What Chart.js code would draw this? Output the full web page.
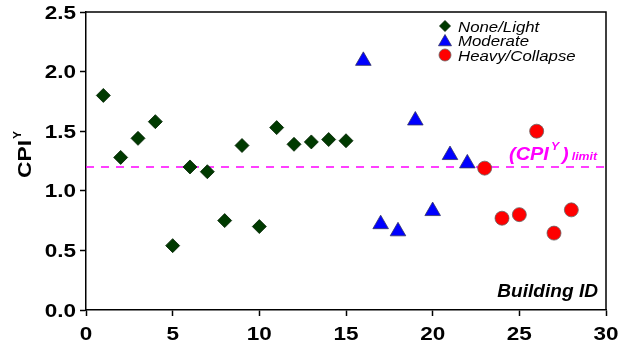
<!DOCTYPE html>
<html>
<head>
<meta charset="utf-8">
<script src="https://cdn.jsdelivr.net/npm/chart.js@4"></script>
<style>
  html, body { margin: 0; padding: 0; background: #fff; }
  canvas { display: block; }
</style>
</head>
<body>
<canvas id="cpi-chart" width="624" height="347"></canvas>
<script>
// building ids and CPI^Y per damage class
const idsNone = [1, 2, 3, 4, 5, 6, 7, 8, 9, 10, 11, 12, 13, 14, 15];
const cpiNone = [1.80, 1.28, 1.44, 1.58, 0.54, 1.20, 1.16, 0.75, 1.38, 0.70, 1.53, 1.39, 1.41, 1.43, 1.42];
const idsModerate = [16, 17, 18, 19, 20, 21, 22];
const cpiModerate = [2.09, 0.72, 0.66, 1.59, 0.83, 1.30, 1.23];
const idsHeavy = [23, 24, 25, 26, 27, 28];
const cpiHeavy = [1.19, 0.77, 0.80, 1.50, 0.645, 0.84];
const cpiLimit = 1.2;
const xTicks = [0, 5, 10, 15, 20, 25, 30];
const yTicks = [0.0, 0.5, 1.0, 1.5, 2.0, 2.5];

const FONT = "Arial, 'Liberation Sans', sans-serif";

function toPoints(xs, ys) {
    return xs.map((x, i) => ({ x: x, y: ys[i] }));
}

const ctx = document.getElementById("cpi-chart").getContext("2d");

// text drawing helper, stretched sideways by sx
function stretchText(c, text, x, y, font, color, align, sx) {
    sx = sx || 1.12;
    c.save();
    c.font = font;
    c.fillStyle = color;
    c.textBaseline = "alphabetic";
    const w = c.measureText(text).width * sx;
    let left = x;
    if (align === "right") left = x - w;
    if (align === "center") left = x - w / 2;
    c.translate(left, y);
    c.scale(sx, 1);
    c.textAlign = "left";
    c.fillText(text, 0, 0);
    c.restore();
    return w;
}

const extras = {
    id: "extras",
    afterDraw(chart) {
        const c = chart.ctx;
        const a = chart.chartArea;
        const xs = chart.scales.x;
        const ys = chart.scales.y;

        // frame: top and right edges
        c.save();
        c.strokeStyle = "#000";
        c.lineWidth = 1.5;
        c.beginPath();
        c.moveTo(a.left, a.top);
        c.lineTo(a.right, a.top);
        c.lineTo(a.right, a.bottom);
        c.stroke();
        c.restore();

        // tick labels (wide bold digits)
        const tickFont = "bold 18px " + FONT;
        xTicks.forEach(v => {
            stretchText(c, String(v), xs.getPixelForValue(v), a.bottom + 30, tickFont, "#000", "center", 1.25);
        });
        yTicks.forEach(v => {
            stretchText(c, v.toFixed(1), a.left - 10, ys.getPixelForValue(v) + 6.5, tickFont, "#000", "right", 1.25);
        });

        // legend
        const rows = chart.data.datasets.filter(d => d.type !== "line");
        rows.forEach((ds, i) => {
            const y = 26 + i * 14.5;
            c.save();
            c.fillStyle = ds.backgroundColor;
            c.strokeStyle = ds.borderColor;
            c.lineWidth = 0.8;
            Chart.helpers.drawPoint(c, {
                pointStyle: ds.pointStyle,
                radius: ds.legendRadius,
                rotation: 0,
                borderWidth: 0.8
            }, 445, y + (ds.pointStyle === "triangle" ? 1.5 : 0));
            c.restore();
            stretchText(c, ds.label, 458, y + 5.5, "italic 15px " + FONT, "#000", "left", 1.12);
        });

        // x axis title inside the plot
        stretchText(c, "Building ID", a.right - 8, a.bottom - 13, "bold italic 18px " + FONT, "#000", "right", 1.06);

        // limit label
        const magenta = "#ff00ff";
        let x = 509;
        const base = 160;
        x += stretchText(c, "(CPI", x, base, "bold italic 19px " + FONT, magenta, "left", 1.05);
        x += 2;
        x += stretchText(c, "Y", x, base - 10, "bold italic 11px " + FONT, magenta, "left");
        x += 3;
        x += stretchText(c, ")", x, base, "bold italic 19px " + FONT, magenta, "left", 1.05);
        x += 3;
        stretchText(c, "limit", x, base, "bold italic 11px " + FONT, magenta, "left");

        // y axis title, rotated
        c.save();
        c.translate(31, 178);
        c.rotate(-Math.PI / 2);
        const w = stretchText(c, "CPI", 0, 0, "bold 19px " + FONT, "#000", "left", 1.2);
        stretchText(c, "Y", w + 1, -10, "bold 11px " + FONT, "#000", "left", 1.1);
        c.restore();
    }
};

new Chart(ctx, {
    type: "scatter",
    data: {
        datasets: [
            {
                label: "None/Light",
                data: toPoints(idsNone, cpiNone),
                pointStyle: "rectRot",
                pointRadius: 7,
                legendRadius: 5.5,
                backgroundColor: "#003a00",
                borderColor: "#002200",
                borderWidth: 0.8
            },
            {
                label: "Moderate",
                data: toPoints(idsModerate, cpiModerate),
                pointStyle: "triangle",
                pointRadius: 9,
                legendRadius: 7.5,
                backgroundColor: "#0000ff",
                borderColor: "#333366",
                borderWidth: 0.8
            },
            {
                label: "Heavy/Collapse",
                data: toPoints(idsHeavy, cpiHeavy),
                pointStyle: "circle",
                pointRadius: 7,
                legendRadius: 6,
                backgroundColor: "#ff0000",
                borderColor: "#666666",
                borderWidth: 0.8
            },
            {
                type: "line",
                label: "limit",
                data: [{ x: xTicks[0], y: cpiLimit }, { x: xTicks[xTicks.length - 1], y: cpiLimit }],
                borderColor: "#ff00ff",
                borderWidth: 1.5,
                borderDash: [8, 7],
                pointRadius: 0,
                order: 10
            }
        ]
    },
    options: {
        responsive: false,
        animation: false,
        layout: { padding: { top: 12, right: 18, left: 0, bottom: 0 } },
        plugins: {
            legend: { display: false },
            tooltip: { enabled: false }
        },
        scales: {
            x: {
                type: "linear",
                min: xTicks[0],
                max: xTicks[xTicks.length - 1],
                afterBuildTicks: s => { s.ticks = xTicks.map(v => ({ value: v })); },
                afterFit: s => { s.height = 37; },
                grid: { drawOnChartArea: false, drawTicks: true, tickLength: 6, tickWidth: 1.5, tickColor: "#000" },
                border: { display: true, color: "#000", width: 1.5 },
                ticks: { display: false }
            },
            y: {
                min: yTicks[0],
                max: yTicks[yTicks.length - 1],
                afterBuildTicks: s => { s.ticks = yTicks.map(v => ({ value: v })); },
                afterFit: s => { s.width = 86; },
                grid: { drawOnChartArea: false, drawTicks: true, tickLength: 6, tickWidth: 1.5, tickColor: "#000" },
                border: { display: true, color: "#000", width: 1.5 },
                ticks: { display: false }
            }
        }
    },
    plugins: [extras]
});
</script>
</body>
</html>
